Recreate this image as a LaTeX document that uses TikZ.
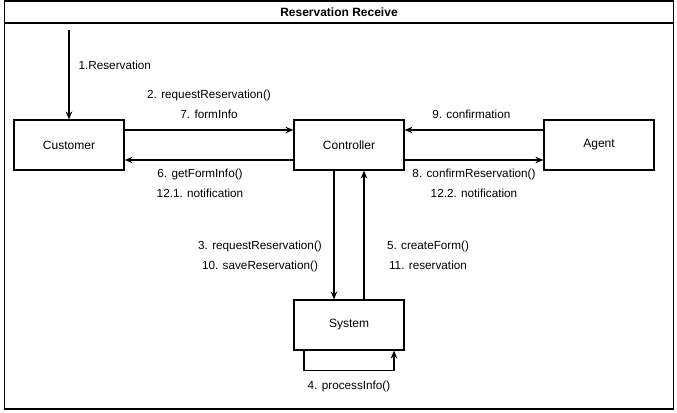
\documentclass[tikz,border=0pt]{standalone}
\usepackage{fontspec}
\setmainfont{Liberation Sans}
\usetikzlibrary{arrows.meta,positioning}

\tikzset{
  obj/.style={draw,minimum width=82.5pt,minimum height=37.5pt,inner sep=0pt},
  msg/.style={font=\fontsize{8.8}{15}\selectfont,align=center,inner sep=0pt},
}

\begin{document}
\begin{tikzpicture}[x=0.75pt,y=-0.75pt,line width=0.9pt,
    every node/.style={font=\fontsize{9}{11}\selectfont},
    >={Stealth[length=6pt,width=5pt]}]
  \useasboundingbox (0,0) rectangle (677,413);
  % frame
  \draw (4.5,1) rectangle (673.5,409);
  \draw (4.5,23) -- (673.5,23);
  \node[font=\bfseries\fontsize{9}{11}\selectfont] (title) at (339,12) {Reservation Receive};
  % objects
  \node[obj] (customer) at (69,145) {Customer};
  \node[obj] (controller) at (349,145) {Controller};
  \node[obj] (agent) at (599,145) {Agent};
  \node[obj] (system) at (349,325) {System};
  \coordinate (start) at (69,30);
  % messages
  \draw[->] (start) -- (customer.north)
    node[msg,pos=0.44,anchor=base west,xshift=6.75pt] {1.Reservation};
  \draw[->] ([yshift=11.25pt]customer.east) -- ([yshift=11.25pt]controller.west)
    node[msg,midway,anchor=base,yshift=8.25pt] {2. requestReservation()\\7. formInfo};
  \draw[->] ([yshift=-11.25pt]controller.west) -- ([yshift=-11.25pt]customer.east)
    node[msg,midway,anchor=base,xshift=-6.75pt,yshift=-28.5pt] {6. getFormInfo()\\12.1. notification};
  \draw[->] ([yshift=11.25pt]agent.west) -- ([yshift=11.25pt]controller.east)
    node[msg,midway,anchor=base,xshift=-2pt,yshift=8.25pt] {9. confirmation};
  \draw[->] ([yshift=-11.25pt]controller.east) -- ([yshift=-11.25pt]agent.west)
    node[msg,midway,anchor=base,yshift=-28.5pt] {8. confirmReservation()\\12.2. notification};
  \draw[->] ([xshift=-11.25pt]controller.south) -- ([xshift=-11.25pt]system.north)
    node[msg,midway,anchor=base,xshift=-55.5pt,yshift=-25.5pt] {3. requestReservation()\\10. saveReservation()};
  \draw[->] ([xshift=11.25pt]system.north) -- ([xshift=11.25pt]controller.south)
    node[msg,midway,anchor=base,xshift=48pt,yshift=-25.5pt] {5. createForm()\\11. reservation};
  \draw[->] ([xshift=-33.75pt]system.south) -- ++(0,20) -| ([xshift=33.75pt]system.south)
    node[msg,pos=0.25,anchor=base,yshift=-14.25pt] {4. processInfo()};
\end{tikzpicture}
\end{document}
